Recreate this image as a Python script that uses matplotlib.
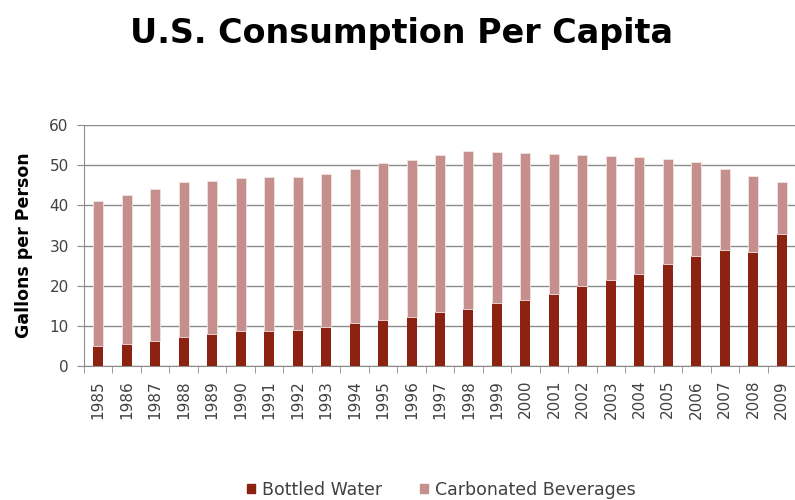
import matplotlib
matplotlib.use("Agg")
import matplotlib.pyplot as plt
import numpy as np
from matplotlib.patches import Patch

# values (gallons per person)
years = [str(y) for y in range(1985, 2010)]
bottled_water = [4.9, 5.5, 6.2, 7.1, 7.9, 8.6, 8.7, 9.0, 9.7, 10.7, 11.4, 12.2, 13.4,
                 14.1, 15.6, 16.4, 17.9, 19.9, 21.4, 22.9, 25.3, 27.4, 29.0, 28.4, 32.8]
total = [41.1, 42.5, 44.1, 45.8, 46.1, 46.8, 47.1, 47.1, 47.7, 49.1, 50.5, 51.3, 52.5,
         53.5, 53.3, 53.0, 52.7, 52.6, 52.3, 52.0, 51.5, 50.7, 49.0, 47.3, 45.8]
carbonated = [t - w for t, w in zip(total, bottled_water)]

water_col = "#8B2212"
soda_col = "#C48F8C"
txt_col = "#404040"
grid_col = "#8C8C8C"

fig = plt.figure(figsize=(7.95, 5), dpi=100)
ax = fig.add_axes([84 / 795, 134 / 500, 712 / 795, 241 / 500])

x = np.arange(len(years))
ax.bar(x, bottled_water, width=0.35, color=water_col, linewidth=0, zorder=3)
ax.bar(x, carbonated, width=0.35, bottom=bottled_water, color=soda_col,
       edgecolor="#F3E3E2", linewidth=0.6, zorder=3)

ax.set_xlim(-0.5, len(years) - 0.5)
ax.set_ylim(0, 60)
ax.set_yticks(range(0, 61, 10))
ax.yaxis.grid(True, color=grid_col, linewidth=1)
ax.set_axisbelow(True)

ax.set_xticks(x)
ax.set_xticklabels(years, rotation=90, fontsize=11, color=txt_col)
ax.set_xticks(np.arange(-0.5, len(years), 1), minor=True)
ax.tick_params(axis="x", which="major", length=0, pad=10)
ax.tick_params(axis="x", which="minor", length=5, color=grid_col)
ax.tick_params(axis="y", length=5, color=grid_col, labelsize=11, labelcolor=txt_col, pad=6)

for s in ["top", "right"]:
    ax.spines[s].set_visible(False)
ax.spines["left"].set_color(grid_col)
ax.spines["bottom"].set_color(grid_col)

ax.set_ylabel("Gallons per Person", fontsize=12.5, fontweight="bold", labelpad=12)

fig.text(0.505, 0.934, "U.S. Consumption Per Capita", ha="center", va="center",
         fontsize=24, fontweight="bold")

handles = [Patch(color=water_col, label="Bottled Water"),
           Patch(color=soda_col, label="Carbonated Beverages")]
fig.legend(handles=handles, loc="center", bbox_to_anchor=(0.555, 0.02), ncol=2,
           frameon=False, fontsize=12.5, handlelength=0.45, handleheight=0.45,
           handletextpad=0.4, columnspacing=2.2, labelcolor=txt_col)

fig.savefig("out.png", dpi=100)
